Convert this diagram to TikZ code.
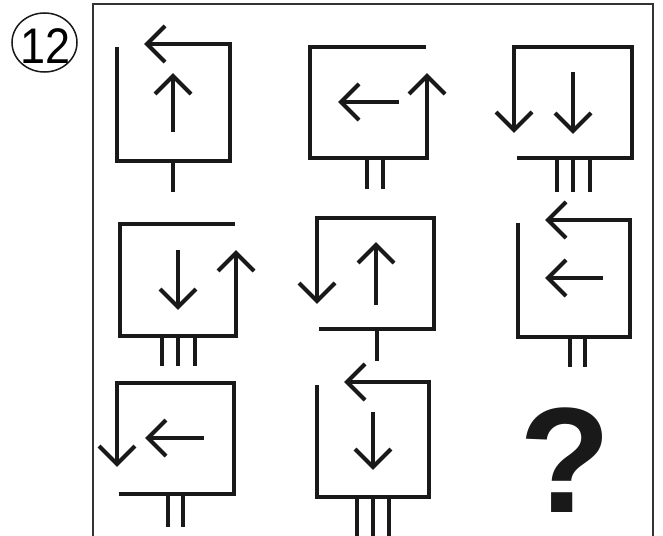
\documentclass[tikz,border=0pt]{standalone}
\usepackage{fontspec}
\setmainfont{Liberation Sans}
\begin{document}
\begin{tikzpicture}[x=1pt,y=-1pt,
  ln/.style={line width=4pt,line cap=butt,line join=miter,color=black!90},
  frame/.style={line width=2pt,color=black!80},
  ring/.style={line width=1.5pt,color=black!90}]
\useasboundingbox (0,0) rectangle (663,535);
% chevron macros: tip at (#1,#2)
\newcommand\chL[2]{\draw[ln] (#1+18,#2-18) -- (#1,#2) -- (#1+18,#2+18);}
\newcommand\chR[2]{\draw[ln] (#1-18,#2-18) -- (#1,#2) -- (#1-18,#2+18);}
\newcommand\chU[2]{\draw[ln] (#1-18,#2+18) -- (#1,#2) -- (#1+18,#2+18);}
\newcommand\chD[2]{\draw[ln] (#1-18,#2-18) -- (#1,#2) -- (#1+18,#2-18);}
% frame
\draw[frame] (93,540) -- (93,4) -- (653,4) -- (653,540);
% number
\draw[ring] (44.5,42.5) ellipse [x radius=32.5, y radius=29.5];
\node[inner sep=0,font=\fontsize{50}{50}\selectfont,xscale=0.9] (num) at (45.5,46.5) {12};
% cell 1
\draw[ln] (117,47) -- (117,161) -- (230,161) -- (230,44) -- (147,44);
\chL{147}{44}
\draw[ln] (173,132) -- (173,76); \chU{173}{76}
\draw[ln] (173,161) -- (173,192);
% cell 2
\draw[ln] (426,47) -- (310,47) -- (310,158) -- (427,158) -- (427,76);
\chU{427}{76}
\draw[ln] (399,102) -- (341,102); \chL{341}{102}
\draw[ln] (367,158) -- (367,189) (383,158) -- (383,189);
% cell 3
\draw[ln] (514,130) -- (514,47) -- (632,47) -- (632,158) -- (517,158);
\chD{514}{130}
\draw[ln] (573,72) -- (573,131); \chD{573}{131}
\draw[ln] (557,158) -- (557,192) (573,158) -- (573,192) (590,158) -- (590,192);
% cell 4
\draw[ln] (235,224) -- (120,224) -- (120,336) -- (236,336) -- (236,253);
\chU{236}{253}
\draw[ln] (178,250) -- (178,307); \chD{178}{307}
\draw[ln] (162,336) -- (162,366) (178,336) -- (178,366) (195,336) -- (195,366);
% cell 5
\draw[ln] (317,301) -- (317,218) -- (434,218) -- (434,329) -- (319,329);
\chD{317}{301}
\draw[ln] (376,305) -- (376,245); \chU{376}{245}
\draw[ln] (377,329) -- (377,361);
% cell 6
\draw[ln] (518,223) -- (518,337) -- (630,337) -- (630,220) -- (548,220);
\chL{548}{220}
\draw[ln] (603,278) -- (548,278); \chL{548}{278}
\draw[ln] (570,337) -- (570,367) (585,337) -- (585,367);
% cell 7
\draw[ln] (117,464) -- (117,383) -- (234,383) -- (234,494) -- (119,494);
\chD{117}{464}
\draw[ln] (204,438) -- (148,438); \chL{148}{438}
\draw[ln] (168,494) -- (168,527) (183,494) -- (183,527);
% cell 8
\draw[ln] (317,385) -- (317,497) -- (429,497) -- (429,382) -- (347,382);
\chL{347}{382}
\draw[ln] (373,412) -- (373,467); \chD{373}{467}
\draw[ln] (357,497) -- (357,540) (373,497) -- (373,540) (389,497) -- (389,540);
% cell 9
\node[inner sep=0,font=\fontsize{150}{150}\selectfont\bfseries,text=black!90] (q) at (565,460) {?};
\end{tikzpicture}
\end{document}
